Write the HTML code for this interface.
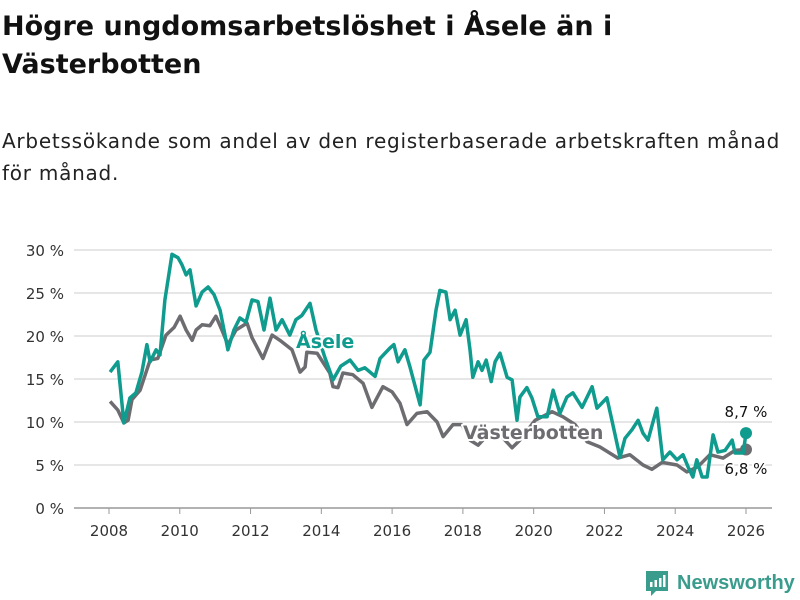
<!DOCTYPE html>
<html><head><meta charset="utf-8">
<style>
body{margin:0;width:800px;height:600px;background:#fff;font-family:"DejaVu Sans","Liberation Sans",sans-serif;overflow:hidden;position:relative}
h1{position:absolute;left:2px;top:8px;margin:0;font-size:27px;line-height:38px;font-weight:bold;color:#111;width:798px;white-space:nowrap}
p{position:absolute;left:2px;top:125px;margin:0;font-size:20px;letter-spacing:0.75px;line-height:32px;color:#222;width:798px;white-space:nowrap}
svg{position:absolute;left:0;top:0}
</style></head><body>
<h1>Högre ungdomsarbetslöshet i Åsele än i<br>Västerbotten</h1>
<p>Arbetssökande som andel av den registerbaserade arbetskraften månad<br>för månad.</p>
<svg id="chart" width="800" height="600"></svg>
<script>
const yTicks=[0,5,10,15,20,25,30];
const xTicks=[2008,2010,2012,2014,2016,2018,2020,2022,2024,2026];
const aseleDates=[2008.03,2008.25,2008.42,2008.59,2008.76,2008.93,2009.07,2009.16,2009.33,2009.44,2009.58,2009.78,2009.95,2010.06,2010.18,2010.29,2010.46,2010.63,2010.80,2010.97,2011.14,2011.36,2011.53,2011.70,2011.87,2012.04,2012.21,2012.38,2012.55,2012.72,2012.89,2013.11,2013.28,2013.45,2013.68,2013.85,2014.10,2014.33,2014.55,2014.81,2015.04,2015.23,2015.52,2015.66,2015.94,2016.05,2016.17,2016.36,2016.51,2016.79,2016.90,2017.07,2017.24,2017.35,2017.52,2017.64,2017.78,2017.92,2018.09,2018.20,2018.28,2018.43,2018.54,2018.66,2018.80,2018.91,2019.05,2019.25,2019.39,2019.53,2019.61,2019.81,2019.95,2020.12,2020.38,2020.55,2020.74,2020.94,2021.11,2021.37,2021.65,2021.79,2022.07,2022.21,2022.44,2022.58,2022.78,2022.95,2023.09,2023.23,2023.48,2023.65,2023.85,2024.05,2024.22,2024.36,2024.50,2024.61,2024.76,2024.90,2025.07,2025.21,2025.41,2025.61,2025.69,2025.92,2026.0];
const aseleValues=[15.8,17.0,9.9,12.8,13.4,15.8,19.0,17.0,18.4,17.8,24.2,29.5,29.1,28.3,27.1,27.7,23.5,25.1,25.7,24.8,23.0,18.4,20.7,22.1,21.6,24.2,24.0,20.7,24.4,20.7,21.9,20.1,21.9,22.4,23.8,20.7,17.5,14.9,16.5,17.2,16.0,16.3,15.3,17.4,18.6,19.0,17.0,18.4,16.3,12.0,17.2,18.1,23.0,25.3,25.1,21.9,23.0,20.1,21.9,18.4,15.2,17.0,16.0,17.2,14.7,17.0,18.0,15.2,14.9,10.2,12.9,14.0,12.8,10.6,10.6,13.7,11.0,12.9,13.4,11.7,14.1,11.6,12.8,10.2,5.9,8.1,9.1,10.2,8.7,7.9,11.6,5.6,6.5,5.6,6.2,4.8,3.6,5.6,3.6,3.6,8.5,6.5,6.7,7.9,6.4,6.4,8.7];
const vbDates=[2008.03,2008.25,2008.42,2008.54,2008.65,2008.88,2009.16,2009.38,2009.61,2009.84,2010.01,2010.18,2010.35,2010.46,2010.63,2010.85,2011.02,2011.19,2011.36,2011.59,2011.90,2012.04,2012.35,2012.61,2012.83,2013.17,2013.40,2013.54,2013.59,2013.88,2014.24,2014.33,2014.47,2014.61,2014.89,2015.18,2015.43,2015.74,2016.00,2016.22,2016.42,2016.70,2016.99,2017.27,2017.44,2017.72,2017.97,2018.20,2018.43,2018.77,2019.05,2019.39,2019.61,2020.04,2020.52,2020.83,2021.17,2021.51,2021.87,2022.38,2022.72,2023.09,2023.34,2023.63,2024.05,2024.33,2024.64,2024.98,2025.35,2025.69,2026.0];
const vbValues=[12.4,11.4,9.9,10.2,12.6,13.7,17.2,17.4,20.1,21.0,22.3,20.7,19.5,20.7,21.3,21.2,22.3,20.7,19.0,20.7,21.5,19.8,17.4,20.1,19.5,18.4,15.8,16.4,18.1,18.0,15.7,14.1,14.0,15.7,15.5,14.5,11.7,14.1,13.5,12.2,9.7,11.0,11.2,10.0,8.3,9.7,9.7,7.9,7.3,8.8,8.5,7.0,7.9,10.2,11.2,10.6,9.7,7.7,7.1,5.8,6.2,5.0,4.5,5.3,5.0,4.2,4.8,6.2,5.8,6.7,6.8];

const svg=document.getElementById('chart');
const NS='http://www.w3.org/2000/svg';
const X=d=>109+(d-2008)*(746-109)/18;
const Y=v=>508-v*(508-250)/30;
function mk(tag,attrs,parent){const e=document.createElementNS(NS,tag);for(const k in attrs)e.setAttribute(k,attrs[k]);(parent||svg).appendChild(e);return e;}

yTicks.forEach(t=>{
  const g=mk('line',{x1:74,x2:772,y1:Y(t),y2:Y(t),stroke:t===0?'#999':'#ddd','stroke-width':1.5});
  
  
  const l=mk('text',{x:64,y:Y(t)+6,'text-anchor':'end','font-size':15,fill:'#333'});
  l.textContent=t+' %';
  
  
});
xTicks.forEach(t=>{
  const tk=mk('line',{x1:X(t),x2:X(t),y1:508,y2:514,stroke:'#999','stroke-width':1});
  
  
  const l=mk('text',{x:X(t),y:536,'text-anchor':'middle','font-size':15,fill:'#333'});
  l.textContent=t;
  
  
});
function line(dates,vals,color,name){
  const p=mk('path',{d:dates.map((d,i)=>(i?'L':'M')+X(d).toFixed(1)+','+Y(vals[i]).toFixed(1)).join(''),fill:'none',stroke:color,'stroke-width':3.5,'stroke-linejoin':'round'});
  
  
  const n=dates.length-1;
  const c=mk('circle',{cx:X(dates[n]),cy:Y(vals[n]),r:6,fill:color});
  
  
}
line(vbDates,vbValues,'#6d6c70','vasterbotten-line');
line(aseleDates,aseleValues,'#0f9b8e','asele-line');
function lab(x,y,txt,color,anchor,bold,size,name){
  const t=mk('text',{x:x,y:y,'text-anchor':anchor,'font-size':size,'font-weight':bold?'bold':'normal',fill:color,stroke:'#fff','stroke-width':4,'paint-order':'stroke','stroke-linejoin':'round'});
  t.textContent=txt;
  
  
}
lab(296,348,'Åsele','#0f9b8e','start',true,19,'asele-label');
lab(463,439,'Västerbotten','#6d6c70','start',true,19,'vasterbotten-label');
lab(746,417,'8,7 %','#111','middle',false,15,'asele-end-value');
lab(746,474,'6,8 %','#111','middle',false,15,'vasterbotten-end-value');
const lg=mk('g',{});


mk('path',{d:'M646,571 h22 v20 h-12 l-5,5 v-5 h-5 z',fill:'#3a9c8c'},lg);
mk('rect',{x:650,y:582,width:2.5,height:5,fill:'#fff'},lg);
mk('rect',{x:654.5,y:580,width:2.5,height:7,fill:'#fff'},lg);
mk('rect',{x:659,y:578,width:2.5,height:9,fill:'#fff'},lg);
mk('rect',{x:663,y:575,width:2.5,height:12,fill:'#fff'},lg);
const lt=mk('text',{x:677,y:589,'font-size':20,'font-weight':'bold',fill:'#3a9c8c','font-family':'Liberation Sans, sans-serif'},lg);
lt.textContent='Newsworthy';
</script>
</body></html>
